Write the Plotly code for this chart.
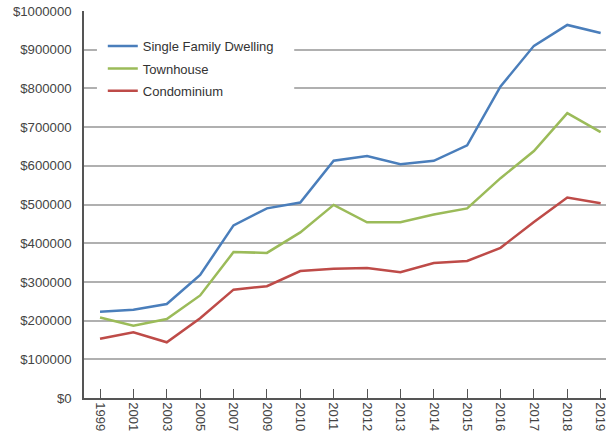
import plotly.graph_objects as go

years = ["1999", "2001", "2003", "2005", "2007", "2009", "2010", "2011",
         "2012", "2013", "2014", "2015", "2016", "2017", "2018", "2019"]
single_family = [223000, 228000, 243000, 318000, 446000, 490000, 505000, 613000,
                 625000, 604000, 613000, 653000, 805000, 910000, 964000, 943000]
townhouse = [208000, 187000, 204000, 265000, 377000, 375000, 428000, 499000,
             454000, 454000, 474000, 490000, 568000, 638000, 736000, 687000]
condominium = [153000, 170000, 144000, 206000, 280000, 289000, 328000, 334000,
               336000, 325000, 349000, 354000, 388000, 455000, 518000, 503000]
y_ticks = list(range(0, 1000001, 100000))
y_tick_labels = [f"${v}" for v in y_ticks]

series = [
    ("Single Family Dwelling", single_family, "#4a7ebb"),
    ("Townhouse", townhouse, "#9bbb59"),
    ("Condominium", condominium, "#be4b48"),
]

fig = go.Figure()
for i, (name, vals, color) in enumerate(series):
    fig.add_trace(go.Scatter(
        x=years, y=vals, name=name, mode="lines",
        line=dict(color=color, width=2.5),
        legendgroup=f"g{i}",
    ))

# white backing box behind the legend (hides the gridlines there)
fig.add_shape(
    type="rect", xref="paper", yref="paper",
    x0=0.0248, x1=0.4027, y0=0.749, y1=0.951,
    fillcolor="white", line=dict(width=0), layer="above",
)

fig.update_layout(
    width=608, height=438,
    margin=dict(l=84, r=0, t=11, b=40),
    paper_bgcolor="white", plot_bgcolor="white",
    font=dict(family="Liberation Sans, Arial, sans-serif", size=13, color="#444444"),
    showlegend=True,
    legend=dict(
        x=0.036, y=0.948, xanchor="left", yanchor="top",
        bgcolor="rgba(255,255,255,0)", borderwidth=0,
        font=dict(size=13, color="#333333"),
        tracegroupgap=2.5,
    ),
)

fig.update_xaxes(
    type="category",
    range=[-0.48, 15.16],
    showgrid=False,
    showline=True, linecolor="#555555", linewidth=1.5,
    ticks="inside", ticklen=9, tickcolor="#555555", tickwidth=1,
    tickangle=90,
    tickfont=dict(size=13, color="#444444"),
    zeroline=False,
)

fig.update_yaxes(
    range=[0, 1000000],
    tickvals=y_ticks, ticktext=y_tick_labels,
    showgrid=True, gridcolor="#b0b0b0", gridwidth=1.5,
    showline=True, linecolor="#555555", linewidth=1.5,
    ticks="", ticklabelstandoff=8,
    tickfont=dict(size=13.2, color="#444444"),
    zeroline=False,
)

fig.write_html("out.html")
